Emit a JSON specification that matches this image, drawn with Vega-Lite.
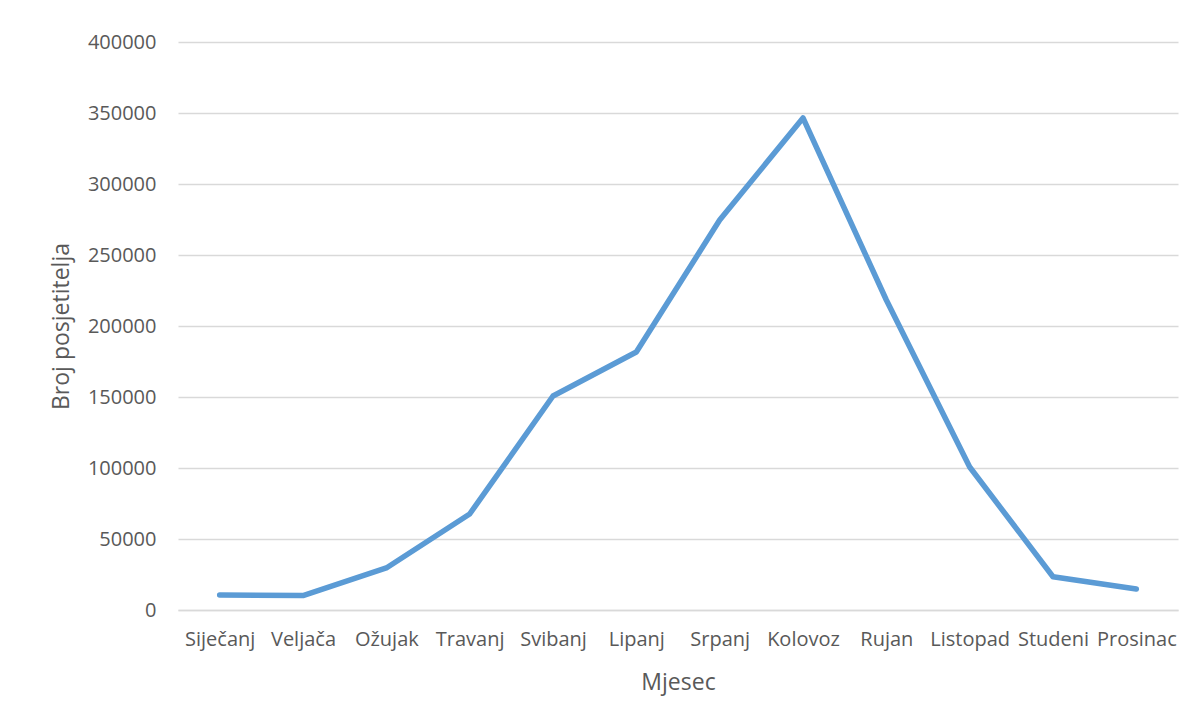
{
  "$schema": "https://vega.github.io/schema/vega-lite/v6.json",
  "width": 1000,
  "height": 568,
  "autosize": {"type": "none"},
  "padding": {"left": 178, "top": 42, "right": 23, "bottom": 112},
  "background": "white",
  "data": {
    "values": [
      {"mjesec": "Siječanj", "broj": 10500},
      {"mjesec": "Veljača", "broj": 10200},
      {"mjesec": "Ožujak", "broj": 29600},
      {"mjesec": "Travanj", "broj": 67600},
      {"mjesec": "Svibanj", "broj": 150700},
      {"mjesec": "Lipanj", "broj": 181700},
      {"mjesec": "Srpanj", "broj": 274600},
      {"mjesec": "Kolovoz", "broj": 346500},
      {"mjesec": "Rujan", "broj": 218300},
      {"mjesec": "Listopad", "broj": 100700},
      {"mjesec": "Studeni", "broj": 23400},
      {"mjesec": "Prosinac", "broj": 14800}
    ]
  },
  "mark": {"type": "line", "color": "#5B9BD5", "strokeWidth": 5.5, "strokeCap": "round", "strokeJoin": "round"},
  "encoding": {
    "x": {
      "field": "mjesec", "type": "ordinal", "sort": null,
      "scale": {"type": "point", "padding": 0.5},
      "axis": {
        "title": "Mjesec", "labelAngle": 0, "ticks": false, "domain": true,
        "domainColor": "#D9D9D9", "domainWidth": 1.5, "labelPadding": 19,
        "labelOverlap": false, "labelBound": false,
        "titlePadding": 22, "labelFontSize": 20, "titleFontSize": 23, "grid": false
      }
    },
    "y": {
      "field": "broj", "type": "quantitative",
      "scale": {"domain": [0, 400000], "nice": false},
      "axis": {
        "title": "Broj posjetitelja", "values": [0, 50000, 100000, 150000, 200000, 250000, 300000, 350000, 400000],
        "format": "d", "ticks": false, "domain": false, "grid": true,
        "gridColor": "#D9D9D9", "gridWidth": 1.5, "labelPadding": 22,
        "labelOverlap": false,
        "titlePadding": 14, "labelFontSize": 20, "titleFontSize": 23
      }
    }
  },
  "config": {
    "view": {"stroke": null},
    "axis": {
      "labelFont": "Open Sans", "titleFont": "Open Sans",
      "labelColor": "#595959", "titleColor": "#595959",
      "titleFontWeight": "normal"
    }
  }
}
